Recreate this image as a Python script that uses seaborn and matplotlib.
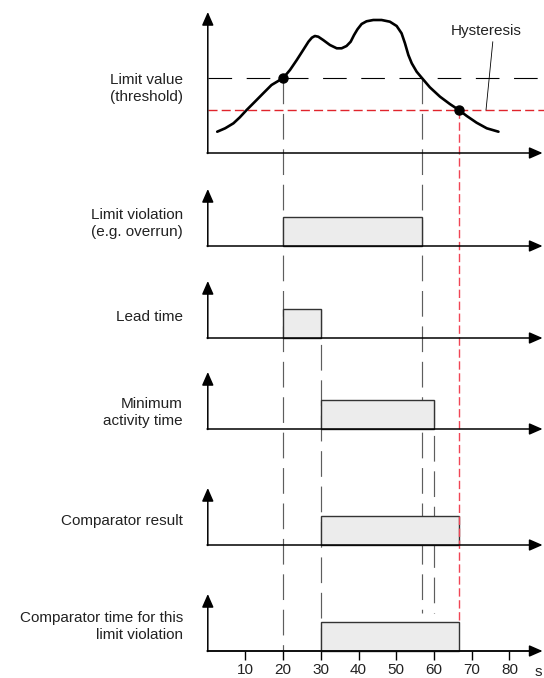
"""Timing diagram of a limit value comparator with hysteresis."""

import matplotlib
matplotlib.use('Agg')
import matplotlib.pyplot as plt
import seaborn as sns

# signal curve (time in s, level in arbitrary units above the baseline)
time_s = [2.5, 4.6, 6.8, 8.5, 10.3, 12.5, 14.7, 16.9, 20.0, 21.8, 23.6,
          25.3, 26.7, 27.6, 28.4, 29.3, 30.6, 32.4, 34.2, 35.5, 36.8, 37.9,
          38.8, 39.7, 40.8, 42.1, 43.9, 46.1, 48.3, 50.1, 51.4, 52.3, 53.2,
          54.1, 55.4, 56.8, 58.9, 61.6, 64.2, 66.6, 68.7, 71.3, 74.0, 77.1]
level = [21.3, 24.7, 29.7, 35.7, 43.0, 51.3, 59.7, 68.0, 75.0, 83.0, 93.0,
         103.0, 111.3, 115.3, 117.0, 116.3, 113.0, 108.0, 104.7, 104.7, 107.0,
         111.3, 118.0, 123.7, 129.0, 131.7, 133.0, 133.0, 131.3, 127.0, 119.7,
         109.7, 98.0, 89.7, 81.3, 75.0, 65.7, 56.3, 49.0, 43.0, 37.0, 30.3,
         24.7, 21.3]

threshold = 75
hysteresis = 43

# event times (s)
t_on = 20.0
t_lead_end = 30.0
t_off = 56.8
t_min_end = 60.0
t_hyst = 66.6

row_labels = [
    'Limit value\n(threshold)',
    'Limit violation\n(e.g. overrun)',
    'Lead time',
    'Minimum\nactivity time',
    'Comparator result',
    'Comparator time for this\nlimit violation',
]
row_intervals = [
    None,
    (t_on, t_off),
    (t_on, t_lead_end),
    (t_lead_end, t_min_end),
    (t_lead_end, t_hyst),
    (t_lead_end, t_hyst),
]
x_ticks = [10, 20, 30, 40, 50, 60, 70, 80]

# layout (pixel rows of the figure)
BASES = [153, 246, 338, 429, 545, 651]
LABEL_Y = [88.5, 223.5, 317, 412.5, 521, 626.5]
TOP_ARROW = 12
ARROW_H = 57
BOX_H = 29.5
X_END = 88.8
LABEL_X = -6.6

sns.set_style('white')
plt.rcParams['font.family'] = ['Liberation Sans', 'DejaVu Sans']
plt.rcParams['lines.scale_dashes'] = False

TXT = '#222222'
GRAY = '#5e5e5e'

fig = plt.figure(figsize=(5.44, 6.78), dpi=100)
ax = fig.add_axes([0, 0, 1, 1])
ax.set_xlim(-55.12, 89.18)
ax.set_ylim(678, 0)

arrow = dict(arrowstyle='-|>,head_length=0.8,head_width=0.35',
             color='black', lw=1.1, mutation_scale=10,
             shrinkA=0, shrinkB=0)

for i, base in enumerate(BASES):
    tip = TOP_ARROW if i == 0 else base - ARROW_H
    ax.annotate('', xy=(0, tip), xytext=(0, base + 0.5), arrowprops=arrow,
                zorder=4)
    ax.annotate('', xy=(X_END, base), xytext=(-0.2, base), arrowprops=arrow,
                zorder=4)
    ax.text(LABEL_X, LABEL_Y[i], row_labels[i], ha='right', va='center',
            multialignment='right', fontsize=11, color=TXT, linespacing=1.25)
    span = row_intervals[i]
    if span is not None:
        ax.bar(span[0], -BOX_H, width=span[1] - span[0], bottom=base,
               align='edge', color='#ececec', edgecolor='#333333',
               linewidth=1.0, zorder=2)

# threshold and hysteresis levels
base0 = BASES[0]
ax.plot([0, 90], [base0 - threshold] * 2, color='black', lw=0.8,
        dashes=(17, 10.5), zorder=1)
ax.plot([0, 90], [base0 - hysteresis] * 2, color='#e0242c', lw=1.0,
        dashes=(6.5, 3), zorder=1)

# signal curve
sns.lineplot(x=time_s, y=[base0 - v for v in level], ax=ax, color='black',
             lw=1.9, zorder=5)
ax.lines[-1].set_solid_capstyle('round')
ax.lines[-1].set_solid_joinstyle('round')
ax.plot([t_on, t_hyst], [base0 - threshold, base0 - hysteresis], 'o',
        color='black', ms=6.5, zorder=6)

# vertical guide lines
guides = [
    (t_on, base0 - threshold, BASES[5]),
    (t_off, base0 - threshold, 613),
    (t_lead_end, BASES[2] - BOX_H, BASES[5]),
    (t_min_end, BASES[3] - BOX_H, 613),
]
for x, y0, y1 in guides:
    ax.plot([x, x], [y0, y1], color=GRAY, lw=0.85, dashes=(18.5, 7),
            zorder=1)
ax.plot([t_hyst, t_hyst], [base0 - hysteresis, BASES[5] - BOX_H],
        color='#f04555', lw=1.0, dashes=(6, 2.6), zorder=3)

# hysteresis annotation
ax.text(73.9, 30.7, 'Hysteresis', ha='center', va='center', fontsize=11,
        color=TXT)
ax.plot([75.6, 73.8], [41.7, base0 - hysteresis], color='black', lw=0.6)

# time axis at the bottom row
for side in ['left', 'right', 'top']:
    ax.spines[side].set_visible(False)
ax.spines['bottom'].set_position(('data', BASES[5]))
ax.spines['bottom'].set_bounds(0, X_END - 2)
ax.spines['bottom'].set_linewidth(1.1)
ax.set_xticks(x_ticks)
ax.set_xticklabels([str(t) for t in x_ticks])
ax.tick_params(axis='x', bottom=True, direction='out', length=6.2,
               width=1.0, pad=2.2, labelsize=11, colors='black',
               labelcolor=TXT)
ax.set_yticks([])
ax.text(86.8, 664.5, 's', ha='left', va='top', fontsize=11, color=TXT)

fig.savefig('out.png', dpi=100)
